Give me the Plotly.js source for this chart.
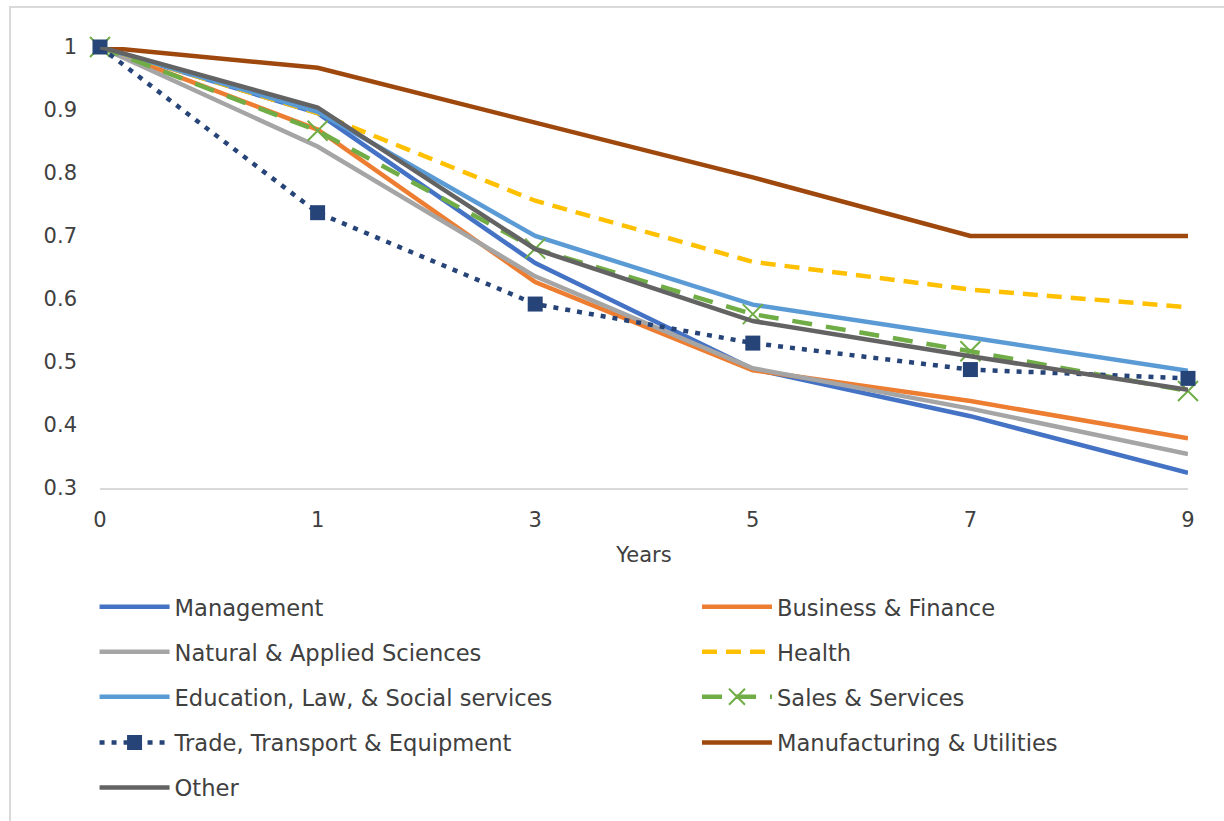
<!DOCTYPE html>
<html>
<head>
<meta charset="utf-8">
<script src="https://cdn.plot.ly/plotly-3.0.1.min.js"></script>
<style>
  html, body { margin: 0; padding: 0; background: #ffffff; }
  #chart { width: 1224px; height: 821px; }
</style>
</head>
<body>
<div id="chart"></div>
<script>
// Years since start (category axis)
const years = ['0', '1', '3', '5', '7', '9'];

// Retention ratios by occupation group
const management    = [1, 0.895, 0.657, 0.489, 0.414, 0.324];
const business      = [1, 0.869, 0.627, 0.487, 0.438, 0.379];
const natural       = [1, 0.842, 0.636, 0.490, 0.426, 0.354];
const health        = [1, 0.895, 0.756, 0.659, 0.615, 0.587];
const education     = [1, 0.897, 0.700, 0.591, 0.539, 0.486];
const sales         = [1, 0.867, 0.680, 0.576, 0.517, 0.454];
const trade         = [1, 0.737, 0.592, 0.530, 0.488, 0.474];
const manufacturing = [1, 0.967, 0.880, 0.793, 0.700, 0.700];
const other         = [1, 0.904, 0.679, 0.565, 0.509, 0.456];

const seriesNames = [
  'Management', 'Business & Finance', 'Natural & Applied Sciences', 'Health',
  'Education, Law, & Social services', 'Sales & Services',
  'Trade, Transport & Equipment', 'Manufacturing & Utilities', 'Other'
];

const FONT = 'DejaVu Sans, sans-serif';
const TEXT = '#404040';
const LW = 4.5;

function line(idx, y, color, extra) {
  return Object.assign({
    type: 'scatter', mode: 'lines', name: seriesNames[idx], x: years, y: y,
    line: { color: color, width: LW },
    legend: idx === 0 ? 'legend' : 'legend' + (idx + 1),
    cliponaxis: false
  }, extra || {});
}

// Draw order: later traces sit on top
const traces = [
  line(0, management, '#4472c4'),
  line(1, business, '#ed7d31'),
  line(2, natural, '#a5a5a5'),
  line(3, health, '#ffc000', { line: { color: '#ffc000', width: LW, dash: '15px,9px' } }),
  line(4, education, '#5b9bd5'),
  line(5, sales, '#70ad47', {
    mode: 'lines+markers',
    line: { color: '#70ad47', width: LW, dash: '20px,14px' },
    marker: { symbol: 'x-thin', size: 20, line: { color: '#70ad47', width: 2 } }
  }),
  line(6, trade, '#264478', {
    mode: 'lines+markers',
    line: { color: '#264478', width: LW, dash: '5px,7px' },
    marker: { symbol: 'square', size: 15, color: '#264478' }
  }),
  line(7, manufacturing, '#9e480e'),
  line(8, other, '#636363')
];

// Legend laid out as a two-column grid, one legend box per entry
const legendCols = [-0.005, 0.5487];
const legendRows = [-0.270, -0.372, -0.474, -0.578, -0.680];

function legendBox(i) {
  return {
    orientation: 'v',
    x: legendCols[i % 2], xanchor: 'left',
    y: legendRows[Math.floor(i / 2)], yanchor: 'middle',
    itemwidth: 70,
    font: { family: FONT, size: 22.6, color: TEXT },
    bgcolor: 'rgba(0,0,0,0)', itemclick: false
  };
}

const layout = {
  width: 1224, height: 821,
  margin: { l: 100, r: 36, t: 47, b: 333 },
  paper_bgcolor: '#ffffff', plot_bgcolor: '#ffffff',
  font: { family: FONT, size: 22, color: TEXT },
  showlegend: true,
  xaxis: {
    type: 'category', range: [0, 5], showgrid: false, zeroline: false,
    showline: true, linecolor: '#d9d9d9', linewidth: 2,
    ticks: '', ticklabelstandoff: 12,
    tickfont: { family: FONT, size: 21, color: TEXT },
    title: { text: 'Years', standoff: 16, font: { family: FONT, size: 21, color: TEXT } }
  },
  yaxis: {
    range: [0.3, 1], dtick: 0.1, tick0: 0.3, showgrid: false, zeroline: false,
    showline: false, ticks: '', ticklabelstandoff: 22,
    tickfont: { family: FONT, size: 21, color: TEXT }
  },
  shapes: [{
    type: 'rect', xref: 'paper', yref: 'paper',
    x0: -0.0827, x1: 1.2, y0: -1.5, y1: 1.0907,
    line: { color: '#d9d9d9', width: 2 }, fillcolor: 'rgba(0,0,0,0)', layer: 'below'
  }]
};

for (let i = 0; i < seriesNames.length; i++) {
  layout[i === 0 ? 'legend' : 'legend' + (i + 1)] = legendBox(i);
}

Plotly.newPlot('chart', traces, layout, { displayModeBar: false, staticPlot: true });
</script>
</body>
</html>
